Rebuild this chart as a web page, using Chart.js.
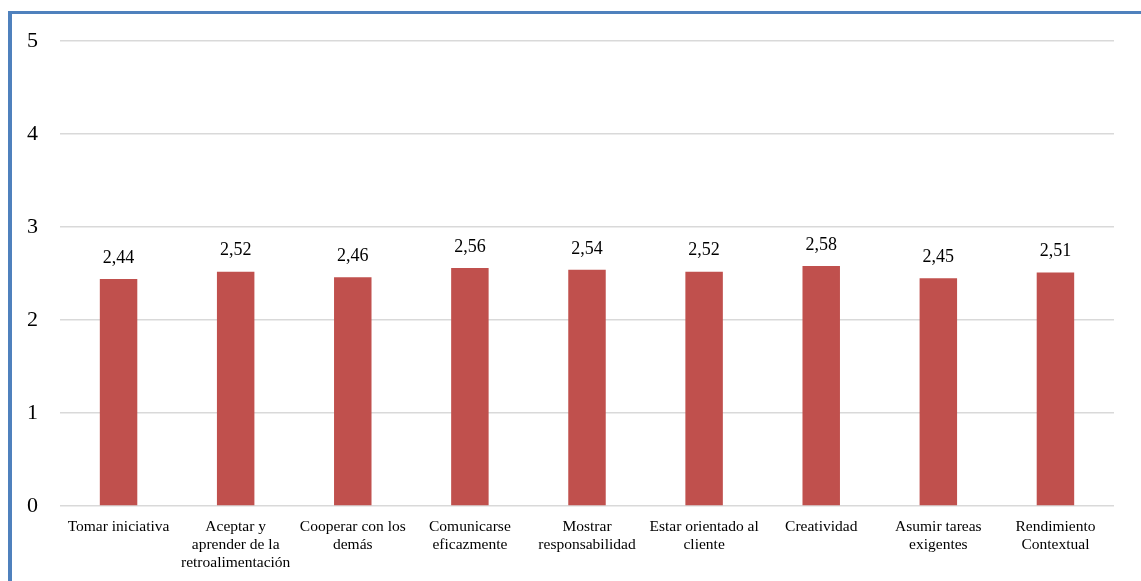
<!DOCTYPE html>
<html>
<head>
<meta charset="utf-8">
<script src="https://cdn.jsdelivr.net/npm/chart.js@4/dist/chart.umd.min.js"></script>
<style>
  html, body { margin: 0; padding: 0; background: #ffffff; }
  #frame {
    position: absolute; left: 8px; top: 11px; width: 1133px; height: 570px;
    border-left: 4px solid #4f81bd; border-top: 3px solid #4f81bd;
    box-sizing: border-box;
  }
  #wrap { position: absolute; left: 0; top: 0; width: 1141px; height: 581px; }
</style>
</head>
<body>
<div id="frame"></div>
<div id="wrap"><canvas id="c" width="1141" height="581"></canvas></div>
<script>
const categories = [
  'Tomar iniciativa',
  ['Aceptar y', 'aprender de la', 'retroalimentación'],
  ['Cooperar con los', 'demás'],
  ['Comunicarse', 'eficazmente'],
  ['Mostrar', 'responsabilidad'],
  ['Estar orientado al', 'cliente'],
  'Creatividad',
  ['Asumir tareas', 'exigentes'],
  ['Rendimiento', 'Contextual']
];
const scores = [2.44, 2.52, 2.46, 2.56, 2.54, 2.52, 2.58, 2.45, 2.51];
const yTicks = [0, 1, 2, 3, 4, 5];

const serif = 'Liberation Serif, Times New Roman, serif';

// Writes each bar's value above it, with a decimal comma
const valueLabels = {
  id: 'valueLabels',
  afterDatasetsDraw(chart) {
    const ctx = chart.ctx;
    const meta = chart.getDatasetMeta(0);
    ctx.save();
    ctx.font = '18px ' + serif;
    ctx.fillStyle = '#000000';
    ctx.textAlign = 'center';
    ctx.textBaseline = 'bottom';
    meta.data.forEach((bar, i) => {
      const txt = scores[i].toFixed(2).replace('.', ',');
      ctx.fillText(txt, bar.x, bar.y - 12);
    });
    ctx.restore();
  }
};

new Chart(document.getElementById('c'), {
  type: 'bar',
  data: {
    labels: categories,
    datasets: [{
      data: scores,
      backgroundColor: '#c0504d',
      borderWidth: 0,
      barPercentage: 0.32,
      categoryPercentage: 1.0
    }]
  },
  options: {
    responsive: false,
    animation: false,
    devicePixelRatio: 1,
    layout: { padding: { top: 41, right: 27, left: 0, bottom: 0 } },
    plugins: {
      legend: { display: false },
      tooltip: { enabled: false }
    },
    scales: {
      x: {
        grid: { display: false, drawTicks: false },
        border: { display: false },
        ticks: {
          color: '#000000',
          font: { family: serif, size: 15.5, lineHeight: 1.16 },
          padding: 12,
          maxRotation: 0,
          autoSkip: false
        },
        afterFit(scale) { scale.height = 75; }
      },
      y: {
        min: 0,
        max: 5,
        afterBuildTicks(scale) { scale.ticks = yTicks.map(v => ({ value: v })); },
        grid: { color: '#d9d9d9', lineWidth: 1.5, drawTicks: false },
        border: { display: false },
        ticks: {
          color: '#000000',
          font: { family: serif, size: 22 },
          padding: 22
        },
        afterFit(scale) { scale.width = 60; }
      }
    }
  },
  plugins: [valueLabels]
});
</script>
</body>
</html>
